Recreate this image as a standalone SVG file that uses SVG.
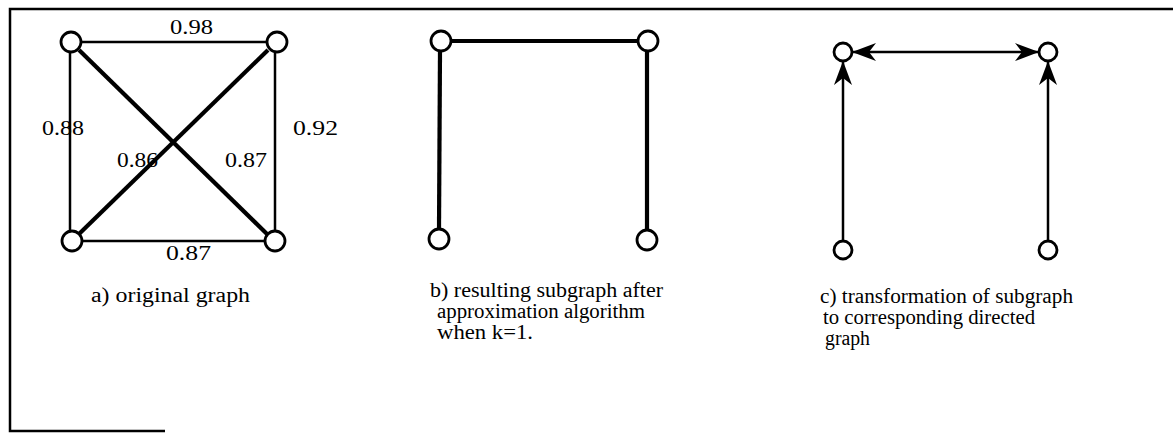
<svg xmlns="http://www.w3.org/2000/svg" width="1173" height="433" viewBox="0 0 1173 433">
<style>
  .node{fill:#fff;stroke:#000;stroke-width:2.8}
  .e1{stroke:#000;stroke-width:2.5;fill:none}
  .e2{stroke:#000;stroke-width:4.2;fill:none}
  .e3{stroke:#000;stroke-width:2.5;fill:none}
</style>
<defs>
  <marker id="ah" viewBox="0 0 24 18" refX="23" refY="9" markerWidth="24" markerHeight="18" markerUnits="userSpaceOnUse" orient="auto-start-reverse">
    <path d="M0,0 L24,9 L0,18 L7,9 Z" fill="#000"/>
  </marker>
</defs>
<rect width="1173" height="433" fill="#fff"/>
<g id="frame" fill="none" stroke="#000" stroke-width="2.5">
  <path d="M1173,9 L10,9 L10,431 L165,431"/>
</g>
<g id="connectors">
  <line class="e1" x1="82" y1="42" x2="266" y2="42"/>
  <line class="e1" x1="70" y1="53" x2="70" y2="231"/>
  <line class="e1" x1="275" y1="53" x2="275" y2="231"/>
  <line class="e1" x1="82" y1="241" x2="264" y2="241"/>
  <line class="e2" x1="79" y1="50" x2="267" y2="234"/>
  <line class="e2" x1="268" y1="50" x2="79" y2="234"/>
  <line class="e2" x1="451" y1="41" x2="638" y2="41"/>
  <line class="e2" x1="440" y1="51" x2="439" y2="229"/>
  <line class="e2" x1="647" y1="51" x2="647" y2="230"/>
  <line class="e3" x1="853" y1="52" x2="1038" y2="52" marker-start="url(#ah)" marker-end="url(#ah)"/>
  <line class="e3" x1="843" y1="241" x2="843" y2="62" marker-end="url(#ah)"/>
  <line class="e3" x1="1048" y1="241" x2="1048" y2="62" marker-end="url(#ah)"/>
</g>
<g id="a_n1"><circle class="node" cx="71" cy="42" r="10"/></g>
<g id="a_n2"><circle class="node" cx="277" cy="42" r="10"/></g>
<g id="a_n3"><circle class="node" cx="72" cy="241" r="10"/></g>
<g id="a_n4"><circle class="node" cx="275" cy="241" r="10"/></g>
<g id="b_n1"><circle class="node" cx="441" cy="41" r="10"/></g>
<g id="b_n2"><circle class="node" cx="648" cy="41" r="10"/></g>
<g id="b_n3"><circle class="node" cx="439" cy="239" r="10"/></g>
<g id="b_n4"><circle class="node" cx="647" cy="240" r="10"/></g>
<g id="c_n1"><circle class="node" cx="843" cy="52" r="9"/></g>
<g id="c_n2"><circle class="node" cx="1048" cy="52" r="9"/></g>
<g id="c_n3"><circle class="node" cx="843" cy="250" r="9"/></g>
<g id="c_n4"><circle class="node" cx="1048" cy="250" r="9"/></g>
<g id="labels" font-family="'Liberation Serif', 'DejaVu Serif', serif" font-size="22" fill="#000">
  <text x="170" y="34" textLength="43" lengthAdjust="spacingAndGlyphs">0.98</text>
  <text x="42" y="135" textLength="42" lengthAdjust="spacingAndGlyphs">0.88</text>
  <text x="117" y="167" textLength="41" lengthAdjust="spacingAndGlyphs">0.86</text>
  <text x="225" y="167" textLength="42" lengthAdjust="spacingAndGlyphs">0.87</text>
  <text x="293" y="135" textLength="45" lengthAdjust="spacingAndGlyphs">0.92</text>
  <text x="166" y="260" textLength="45" lengthAdjust="spacingAndGlyphs">0.87</text>
</g>
<g id="captions" font-family="'Liberation Serif', 'DejaVu Serif', serif" font-size="20" fill="#000">
  <text x="91" y="302" textLength="159" lengthAdjust="spacingAndGlyphs">a) original graph</text>
  <text x="430" y="297" textLength="233" lengthAdjust="spacingAndGlyphs">b) resulting subgraph after</text>
  <text x="437" y="318" textLength="208" lengthAdjust="spacingAndGlyphs">approximation algorithm</text>
  <text x="437" y="339" textLength="96" lengthAdjust="spacingAndGlyphs">when k=1.</text>
  <text x="820" y="303" textLength="253" lengthAdjust="spacingAndGlyphs">c) transformation of subgraph</text>
  <text x="823" y="324" textLength="212" lengthAdjust="spacingAndGlyphs">to corresponding directed</text>
  <text x="825" y="345" textLength="45" lengthAdjust="spacingAndGlyphs">graph</text>
</g>
</svg>
